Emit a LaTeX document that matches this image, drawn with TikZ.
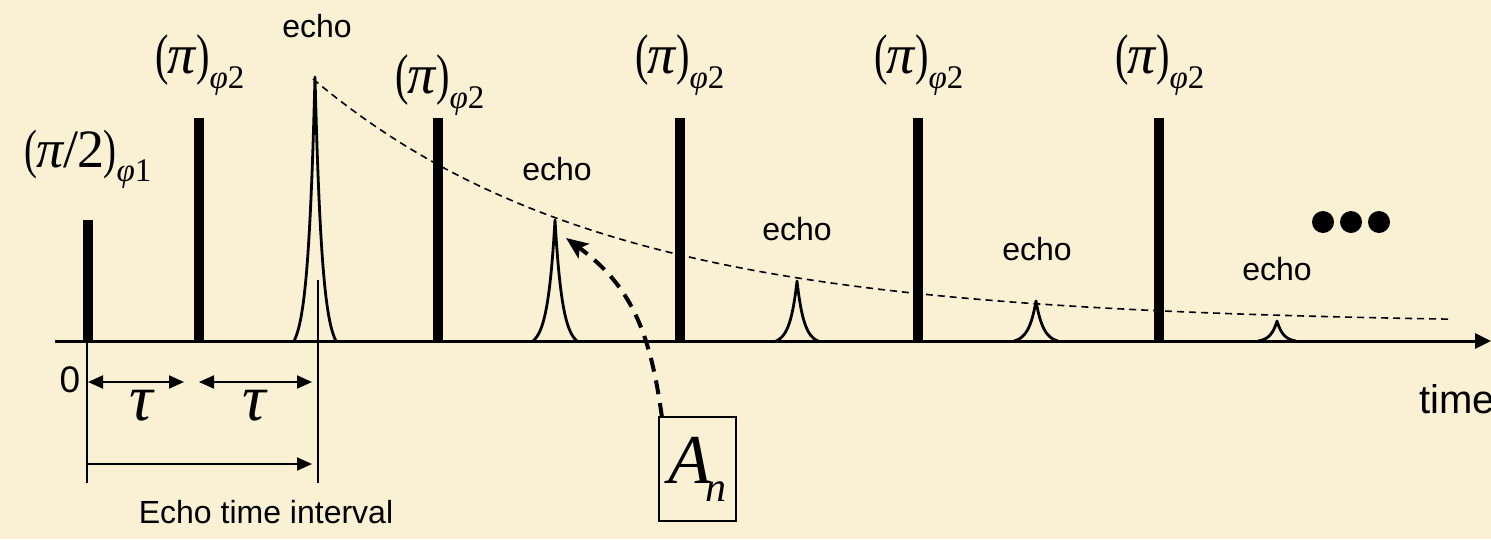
\documentclass[tikz,border=0pt]{standalone}
\usepackage{fontspec}
\setmainfont{Liberation Serif}
\newfontfamily\sansf{Liberation Sans}
\usetikzlibrary{arrows.meta}
\definecolor{bg}{RGB}{250,241,212}
\newcommand{\fs}[1]{\fontsize{#1}{#1}\selectfont}
\newcommand{\nlp}{\scalebox{0.72}[1]{(}}
\newcommand{\nrp}{\scalebox{0.72}[1]{)}}
\newcommand{\pilabel}{{\fs{56}\nlp\kern-1pt\textit{π}\kern-1pt\nrp\raisebox{-15pt}{\fs{33}\textit{φ}2}}}
\newcommand{\halfpilabel}{{\fs{54}\nlp\kern-1pt\textit{π}\kern-1pt/\kern-1pt2\kern-1pt\nrp\raisebox{-14pt}{\fs{33}\textit{φ}1}}}
\newcommand{\echoshape}[3]{%
  \draw[echoline] plot[domain=-#3:#3, samples=61] ({#1+\x}, {341-(341-#2)*(exp(-abs(\x)*3/#3)-0.0498)/0.9502});}
\tikzset{
  pulse/.style={fill=black, draw=none, inner sep=0pt, minimum width=10pt, anchor=south},
  axisline/.style={line width=3pt, -{Triangle[length=16pt,width=15pt]}},
  echoline/.style={line width=2.8pt, line join=round},
  decay/.style={line width=1.6pt, dash pattern=on 7pt off 5pt},
  seglab/.style={font={\sansf\fs{32}}, anchor=base, inner sep=0pt},
  mlab/.style={anchor=base, inner sep=0pt},
  dim/.style={line width=2pt},
  dimarrow/.style={line width=2pt, {Triangle[length=15pt,width=13pt]}-{Triangle[length=15pt,width=13pt]}},
  onearrow/.style={line width=2pt, -{Triangle[length=15pt,width=13pt]}},
  taulab/.style={font={\fs{66}\itshape}, inner sep=0pt},
  bigdash/.style={line width=4pt, dash pattern=on 14pt off 9pt, -{Stealth[length=22pt,width=18pt,inset=5pt]}},
  dotn/.style={circle, fill=black, inner sep=0pt, minimum size=22pt}
}
\begin{document}
\begin{tikzpicture}[x=1pt,y=-1pt]
\fill[bg] (0,0) rectangle (1491,539);
\useasboundingbox (0,0) rectangle (1491,539);
% axis
\coordinate (axs) at (55,341);
\coordinate (axe) at (1491,341);
\draw[axisline] (axs) -- (axe);
% pulses
\node[pulse, minimum height=121pt] (P0) at (88,341) {};
\node[pulse, minimum height=223pt] (P1) at (199,341) {};
\node[pulse, minimum height=223pt] (P2) at (438,341) {};
\node[pulse, minimum height=223pt] (P3) at (680,341) {};
\node[pulse, minimum height=223pt] (P4) at (918,341) {};
\node[pulse, minimum height=223pt] (P5) at (1159,341) {};
% pulse labels
\node[mlab] (L0) at (88,167) {\halfpilabel};
\node[mlab] (L1) at (200,73) {\pilabel};
\node[mlab] (L2) at (440,93) {\pilabel};
\node[mlab] (L3) at (680,73) {\pilabel};
\node[mlab] (L4) at (919,73) {\pilabel};
\node[mlab] (L5) at (1160,73) {\pilabel};
% echoes
\echoshape{315}{77}{21}
\echoshape{555}{220}{22}
\echoshape{797}{281}{21}
\echoshape{1036}{301}{22}
\echoshape{1277}{321}{19}
\node[seglab] (E1) at (317,37) {echo};
\node[seglab] (E2) at (557,180) {echo};
\node[seglab] (E3) at (797,240) {echo};
\node[seglab] (E4) at (1037,260) {echo};
\node[seglab] (E5) at (1277,280) {echo};
% decay envelope
\draw[decay] plot[domain=313:1452, samples=90] (\x, {324-245*exp(-(\x-313)/290)});
% dimension lines
\coordinate (v0t) at (87,341);
\coordinate (v0b) at (87,483);
\coordinate (v1t) at (318,280);
\coordinate (v1b) at (318,483);
\draw[dim] (v0t) -- (v0b);
\draw[dim] (v1t) -- (v1b);
\coordinate (ta1) at (88,382);
\coordinate (tb1) at (184,382);
\coordinate (ta2) at (199,382);
\coordinate (tb2) at (312,382);
\draw[dimarrow] (ta1) -- (tb1);
\draw[dimarrow] (ta2) -- (tb2);
\coordinate (ea) at (87,464);
\coordinate (eb) at (312,464);
\draw[onearrow] (ea) -- (eb);
\node[taulab] (T1) at (141,406) {τ};
\node[taulab] (T2) at (254,406) {τ};
\node[font={\sansf\fs{37}}, anchor=base, inner sep=0pt] (zero) at (70,392) {0};
\node[font={\sansf\fs{32}}, anchor=base, inner sep=0pt] (eti) at (266,523) {Echo time interval};
\node[font={\sansf\fs{40}}, anchor=base west, inner sep=0pt] (time) at (1419,413) {time};
% A_n box and arrow
\node[draw, line width=2.2pt, minimum width=77pt, minimum height=104pt, inner sep=0pt] (An) at (697.5,469)
  {\fs{70}\textit{A}\kern-6pt\raisebox{-18pt}{\fs{42}\textit{n}}};
\coordinate (tip) at (566,238);
\draw[bigdash] ([xshift=4pt,yshift=-1pt]An.north west) .. controls (650,330) and (630,285) .. (tip);
% ellipsis
\node[dotn] (d1) at (1323,222) {};
\node[dotn] (d2) at (1351,222) {};
\node[dotn] (d3) at (1379,222) {};
\end{tikzpicture}
\end{document}
